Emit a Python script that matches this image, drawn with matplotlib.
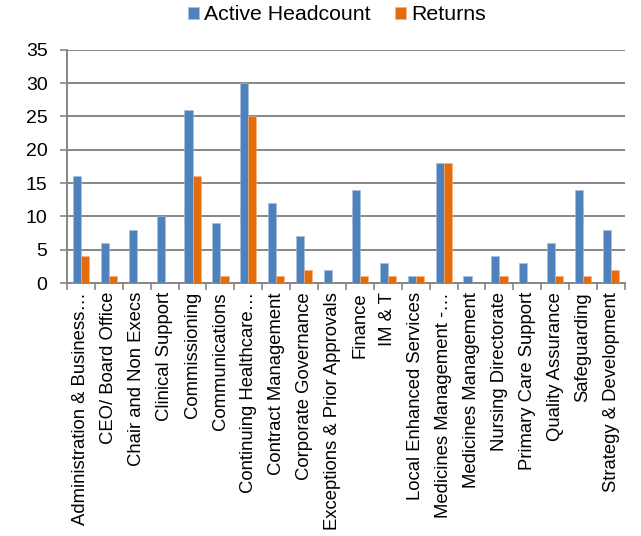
import matplotlib
matplotlib.use("Agg")
import matplotlib.pyplot as plt
import numpy as np

categories = [
    "Administration & Business…", "CEO/ Board Office", "Chair and Non Execs",
    "Clinical Support", "Commissioning", "Communications",
    "Continuing Healthcare…", "Contract Management", "Corporate Governance",
    "Exceptions & Prior Approvals", "Finance", "IM & T",
    "Local Enhanced Services", "Medicines Management -…", "Medicines Management",
    "Nursing Directorate", "Primary Care Support", "Quality Assurance",
    "Safeguarding", "Strategy & Development",
]
active_headcount = [16, 6, 8, 10, 26, 9, 30, 12, 7, 2, 14, 3, 1, 18, 1, 4, 3, 6, 14, 8]
returns = [4, 1, 0, 0, 16, 1, 25, 1, 2, 0, 1, 1, 1, 18, 0, 1, 0, 1, 1, 2]
y_ticks = [0, 5, 10, 15, 20, 25, 30, 35]

plt.rcParams["font.family"] = ["Liberation Sans", "DejaVu Sans"]

fig = plt.figure(figsize=(6.41, 5.36), dpi=100)
ax = fig.add_axes([0.1045, 0.472, 0.8705, 0.435])

blue = "#4F81BD"
orange = "#E46C0A"
grid_c = "#868686"

x = np.arange(len(categories))
w = 0.29
ax.bar(x - w / 2, active_headcount, w, color=blue, edgecolor="#A7C0DE",
       linewidth=0.4, label="Active Headcount", zorder=3)
ax.bar(x + w / 2, returns, w, color=orange, edgecolor="#F2B382",
       linewidth=0.4, label="Returns", zorder=3)

ax.set_xlim(-0.5, len(categories) - 0.5)
ax.set_ylim(0, 35)
ax.set_yticks(y_ticks)
ax.set_yticklabels([str(v) for v in y_ticks], fontsize=14)
ax.yaxis.grid(True, color=grid_c, linewidth=1.4, zorder=0)
ax.set_axisbelow(True)

ax.set_xticks(x)
ax.set_xticklabels(categories, rotation=90, fontsize=13.3)
ax.tick_params(axis="x", length=0, pad=6.5)
ax.set_xticks(np.arange(-0.5, len(categories)), minor=True)
ax.tick_params(axis="x", which="minor", length=5, width=1.2, color=grid_c)
ax.tick_params(axis="y", length=5, width=1.2, color=grid_c, pad=9)

for s in ["top", "right"]:
    ax.spines[s].set_visible(False)
for s in ["left", "bottom"]:
    ax.spines[s].set_color(grid_c)
    ax.spines[s].set_linewidth(1.4)

fig.legend(loc="center", bbox_to_anchor=(0.5257, 1 - 15 / 536), ncol=2,
           frameon=False, fontsize=15.3, handlelength=0.52, handleheight=0.52,
           handletextpad=0.24, columnspacing=1.18, borderpad=0)

fig.savefig("out.png", dpi=100)
